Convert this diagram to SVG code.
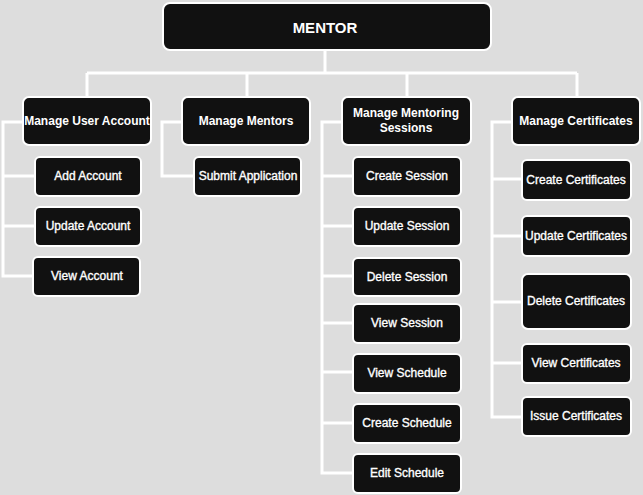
<svg xmlns="http://www.w3.org/2000/svg" width="643" height="495" viewBox="0 0 643 495">
<style>
.n{fill:#111;stroke:#fff;stroke-width:2}
.t1{font-family:"Liberation Sans",Arial,sans-serif;font-weight:bold;font-size:12px;fill:#fff;text-anchor:middle;dominant-baseline:central}
.t2{font-family:"Liberation Sans",Arial,sans-serif;font-size:12px;fill:#fff;stroke:#fff;stroke-width:0.35;text-anchor:middle;dominant-baseline:central}
.c{fill:none;stroke:#fff;stroke-width:3}
</style>
<rect width="643" height="495" fill="#dddddd"/>
<g id="connectors" class="c">
<path d="M325 50V73M87 73H577M87 73V97M247 73V97M407 73V97M577 73V97"/>
<path d="M23 122H3V276H33M3 176H35M3 226H35"/>
<path d="M182 122H162V176H194"/>
<path d="M342 122H322V473H353M322 176H353M322 226H353M322 276H353M322 323H353M322 372H353M322 423H353"/>
<path d="M512 122H492V417H522M492 179H522M492 236H522M492 302H522M492 363H522"/>
</g>
<g id="mentor"><rect class="n" x="163" y="3" width="328" height="47" rx="7"/><text class="t1" x="325" y="27" style="font-size:15px">MENTOR</text></g>
<g id="manage-user-account"><rect class="n" x="23" y="97" width="128" height="48" rx="6"/><text class="t1" x="87" y="121">Manage User Account</text></g>
<g id="manage-mentors"><rect class="n" x="182" y="97" width="128" height="48" rx="6"/><text class="t1" x="246" y="121">Manage Mentors</text></g>
<g id="manage-mentoring-sessions"><rect class="n" x="342" y="97" width="129" height="48" rx="6"/><text class="t1" x="406" y="113">Manage Mentoring</text><text class="t1" x="406" y="128">Sessions</text></g>
<g id="manage-certificates"><rect class="n" x="512" y="97" width="128" height="48" rx="6"/><text class="t1" x="576" y="121">Manage Certificates</text></g>
<g id="add-account"><rect class="n" x="35" y="157" width="106" height="39" rx="5"/><text class="t2" x="88" y="176">Add Account</text></g>
<g id="update-account"><rect class="n" x="35" y="207" width="106" height="39" rx="5"/><text class="t2" x="88" y="226">Update Account</text></g>
<g id="view-account"><rect class="n" x="33" y="257" width="107" height="39" rx="5"/><text class="t2" x="87" y="276">View Account</text></g>
<g id="submit-application"><rect class="n" x="194" y="157" width="107" height="39" rx="5"/><text class="t2" x="248" y="176">Submit Application</text></g>
<g id="create-session"><rect class="n" x="353" y="157" width="108" height="39" rx="5"/><text class="t2" x="407" y="176">Create Session</text></g>
<g id="update-session"><rect class="n" x="353" y="207" width="108" height="39" rx="5"/><text class="t2" x="407" y="226">Update Session</text></g>
<g id="delete-session"><rect class="n" x="353" y="258" width="108" height="38" rx="5"/><text class="t2" x="407" y="277">Delete Session</text></g>
<g id="view-session"><rect class="n" x="353" y="304" width="108" height="39" rx="5"/><text class="t2" x="407" y="323">View Session</text></g>
<g id="view-schedule"><rect class="n" x="353" y="354" width="108" height="39" rx="5"/><text class="t2" x="407" y="373">View Schedule</text></g>
<g id="create-schedule"><rect class="n" x="353" y="404" width="108" height="39" rx="5"/><text class="t2" x="407" y="423">Create Schedule</text></g>
<g id="edit-schedule"><rect class="n" x="353" y="454" width="108" height="39" rx="5"/><text class="t2" x="407" y="473">Edit Schedule</text></g>
<g id="create-certificates"><rect class="n" x="522" y="160" width="109" height="40" rx="5"/><text class="t2" x="576" y="180">Create Certificates</text></g>
<g id="update-certificates"><rect class="n" x="522" y="216" width="109" height="40" rx="5"/><text class="t2" x="576" y="236">Update Certificates</text></g>
<g id="delete-certificates"><rect class="n" x="522" y="274" width="109" height="55" rx="6"/><text class="t2" x="576" y="301">Delete Certificates</text></g>
<g id="view-certificates"><rect class="n" x="522" y="344" width="109" height="39" rx="5"/><text class="t2" x="576" y="363">View Certificates</text></g>
<g id="issue-certificates"><rect class="n" x="522" y="397" width="109" height="39" rx="5"/><text class="t2" x="576" y="416">Issue Certificates</text></g>
</svg>
